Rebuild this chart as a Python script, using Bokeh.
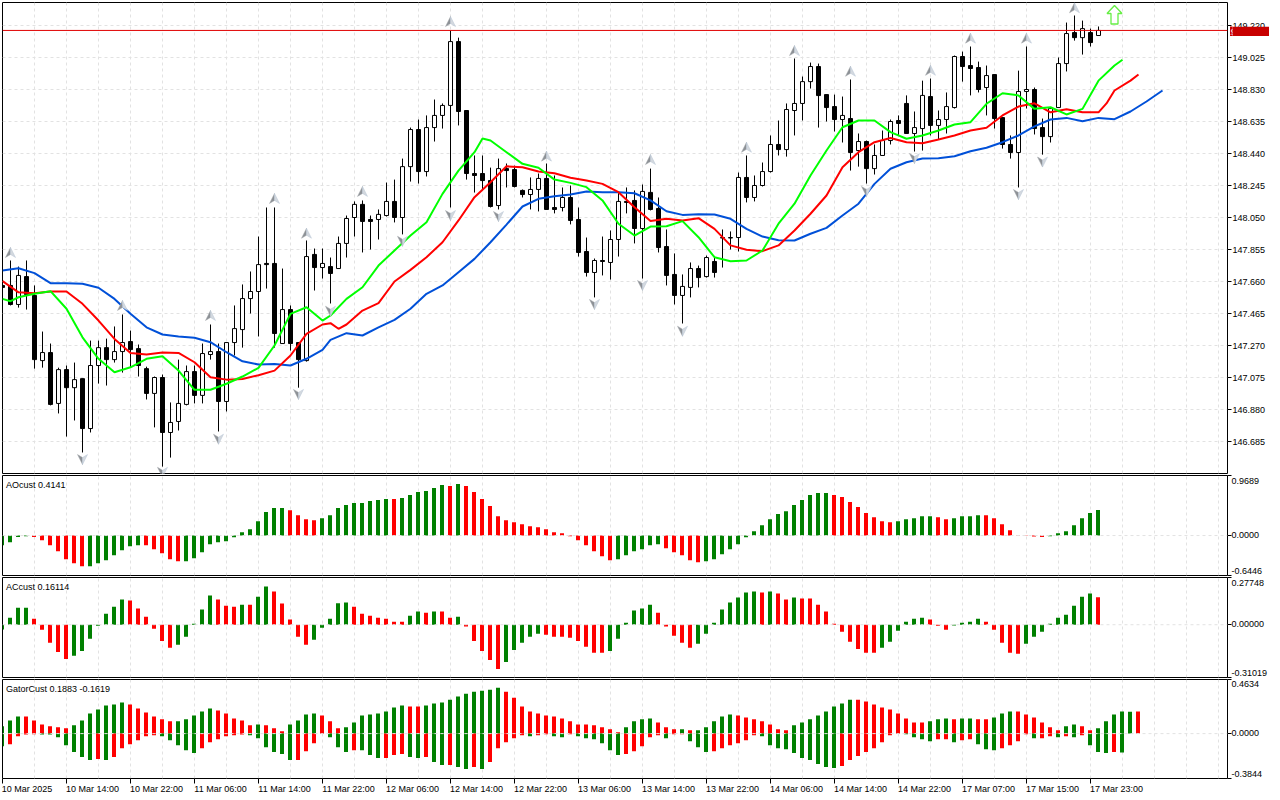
from bokeh.embed import file_html
from bokeh.layouts import column
from bokeh.models import (FixedTicker, Grid, Label, LinearAxis, PrintfTickFormatter, Range1d, Span)
from bokeh.plotting import figure
from bokeh.resources import INLINE

high = [147.642,147.788,147.751,147.788,147.636,147.355,147.282,147.135,147.148,147.166,
147.068,147.300,147.300,147.312,147.386,147.459,147.361,147.276,147.141,147.081,
147.093,146.923,147.184,147.148,147.148,147.282,147.398,147.282,147.288,147.514,
147.642,147.721,147.934,148.111,148.111,147.739,147.514,147.288,147.910,147.861,
147.861,147.806,147.934,148.062,148.148,148.154,148.062,148.099,148.263,148.281,
148.409,148.598,148.647,148.672,148.769,148.745,149.189,149.146,148.702,148.428,
148.428,148.354,148.409,148.379,148.366,148.221,148.294,148.318,148.379,148.306,
148.233,148.245,148.111,147.928,147.800,147.934,147.971,148.203,148.233,148.215,
148.251,148.348,148.172,147.977,147.831,147.703,147.776,147.757,147.818,147.806,
147.977,147.965,148.324,148.428,148.306,148.385,148.550,148.641,148.745,149.019,
148.909,148.994,148.988,148.799,148.799,148.787,148.891,148.562,148.519,148.495,
148.580,148.647,148.672,148.794,148.696,148.884,148.897,148.702,148.812,149.037,
149.061,149.092,149.000,148.976,148.921,148.659,148.550,148.945,149.092,148.842,
148.653,148.720,149.025,149.238,149.281,149.250,149.201,149.214]
open_ = [147.636,147.636,147.520,147.690,147.575,147.178,147.227,146.917,147.123,147.013,
147.068,146.764,147.148,147.257,147.184,147.233,147.294,147.251,147.129,146.978,
147.075,146.740,146.807,146.911,147.111,146.966,147.215,147.233,146.929,147.288,
147.367,147.556,147.599,147.770,147.770,147.282,147.489,147.288,147.178,147.825,
147.745,147.751,147.739,147.892,148.050,148.130,148.038,148.038,148.062,148.148,
148.050,148.360,148.586,148.330,148.598,148.672,148.733,149.122,148.702,148.318,
148.318,148.275,148.123,148.348,148.342,148.215,148.190,148.221,148.288,148.111,
148.111,148.172,148.038,147.843,147.715,147.788,147.776,147.916,148.148,148.154,
147.983,148.203,148.105,147.873,147.703,147.575,147.624,147.739,147.690,147.782,
147.925,147.925,147.928,148.294,148.172,148.245,148.330,148.495,148.464,148.702,
148.745,148.878,148.970,148.799,148.726,148.647,148.653,148.458,148.513,148.348,
148.428,148.519,148.641,148.745,148.562,148.592,148.787,148.611,148.647,148.720,
149.031,148.976,148.964,148.842,148.921,148.659,148.495,148.446,148.818,148.830,
148.598,148.543,148.720,148.988,149.177,149.146,149.177,149.159]
close = [147.624,147.520,147.697,147.581,147.184,147.227,146.911,147.123,147.013,147.062,
146.764,147.148,147.257,147.184,147.233,147.288,147.245,147.148,146.978,147.075,
146.740,146.801,146.917,147.111,146.966,147.221,147.233,146.929,147.288,147.373,
147.556,147.599,147.763,147.763,147.343,147.489,147.282,147.184,147.812,147.745,
147.770,147.709,147.892,148.044,148.130,148.026,148.026,148.069,148.148,148.050,
148.360,148.586,148.330,148.598,148.672,148.733,149.122,148.696,148.318,148.306,
148.275,148.117,148.348,148.336,148.239,148.190,148.221,148.288,148.099,148.099,
148.172,148.032,147.837,147.715,147.788,147.782,147.916,148.148,148.142,147.983,
148.209,148.099,147.867,147.697,147.575,147.630,147.739,147.684,147.806,147.715,
147.928,147.928,148.294,148.172,148.245,148.330,148.495,148.464,148.708,148.745,
148.878,148.970,148.793,148.720,148.647,148.672,148.446,148.513,148.348,148.428,
148.519,148.635,148.623,148.562,148.598,148.794,148.611,148.647,148.726,149.031,
148.970,148.958,148.830,148.915,148.653,148.495,148.446,148.818,148.830,148.592,
148.543,148.714,148.988,149.171,149.146,149.201,149.116,149.190]
low = [147.617,147.514,147.501,147.489,147.129,147.135,146.905,146.856,146.715,146.813,
146.618,146.740,147.038,147.026,147.166,147.105,147.135,147.081,146.941,146.771,
146.532,146.587,146.752,146.905,146.917,146.917,147.184,146.746,146.868,147.209,
147.257,147.465,147.325,147.617,147.257,147.282,147.239,147.013,147.172,147.605,
147.678,147.526,147.739,147.806,147.934,147.837,147.855,147.916,148.056,148.020,
147.947,148.269,148.257,148.300,148.513,148.592,148.111,148.611,148.281,148.202,
148.215,148.111,148.099,148.233,148.233,148.172,148.099,148.087,148.099,148.075,
148.087,148.008,147.812,147.690,147.563,147.697,147.672,147.812,148.075,147.892,
147.678,148.093,147.837,147.636,147.520,147.404,147.563,147.624,147.684,147.684,
147.745,147.855,147.843,148.142,148.148,148.239,148.324,148.428,148.421,148.550,
148.641,148.836,148.598,148.635,148.574,148.507,148.336,148.360,148.257,148.312,
148.428,148.495,148.550,148.562,148.452,148.458,148.550,148.525,148.562,148.714,
148.878,148.794,148.812,148.672,148.592,148.470,148.409,148.233,148.714,148.556,
148.433,148.507,148.720,148.940,149.128,149.043,149.092,149.159]

blue_line = [147.727,147.741,147.711,147.650,147.650,147.646,147.622,147.554,147.463,147.381,
147.337,147.325,147.317,147.290,147.229,147.174,147.154,147.158,147.148,147.189,147.244,
147.304,147.345,147.331,147.381,147.426,147.494,147.585,147.636,147.717,147.798,
147.899,148.007,148.117,148.164,148.180,148.190,148.209,148.204,148.204,148.198,
148.154,148.088,148.066,148.070,148.068,148.042,147.981,147.934,147.911,147.910,
147.951,147.987,148.062,148.134,148.255,148.347,148.387,148.409,148.411,148.423,
148.454,148.475,148.509,148.550,148.605,148.647,148.657,148.637,148.657,148.649,
148.696,148.757,148.824]
red_line = [147.662,147.594,147.588,147.599,147.599,147.524,147.422,147.310,147.225,147.215,
147.227,147.225,147.168,147.076,147.062,147.066,147.089,147.117,147.209,147.341,147.398,
147.406,147.398,147.483,147.528,147.660,147.731,147.808,147.899,148.032,148.174,
148.265,148.362,148.356,148.330,148.320,148.292,148.275,148.255,148.204,148.113,
148.028,148.042,148.032,148.046,147.981,147.880,147.854,147.845,147.880,147.971,
148.073,148.184,148.356,148.448,148.509,148.535,148.509,148.503,148.525,148.550,
148.580,148.597,148.672,148.726,148.746,148.691,148.710,148.691,148.691,148.824,
148.884,148.921]
green_line = [147.554,147.564,147.585,147.601,147.494,147.320,147.189,147.107,147.137,147.189,
147.205,147.117,147.000,147.000,147.037,147.081,147.134,147.270,147.463,147.503,147.422,
147.453,147.554,147.625,147.757,147.849,147.940,148.021,148.194,148.336,148.448,
148.519,148.448,148.377,148.353,148.281,148.261,148.235,148.154,148.012,147.940,
147.995,147.997,148.028,147.930,147.808,147.783,147.788,147.849,148.012,148.134,
148.306,148.458,148.600,148.641,148.641,148.570,148.530,148.550,148.580,148.617,
148.631,148.743,148.807,148.794,148.712,148.722,148.678,148.712,148.884,148.976,149.011]
line_bars = list(range(0, 41, 2)) + list(range(41, 146, 2))
blue_bars = line_bars
red_bars = line_bars[:72] + [142]
green_bars = line_bars[:71] + [140]
# extra readings at the lines' sharper bends
red_extra = {42: 147.372, 138: 148.745}
green_extra = {1: 147.540, 60: 148.531}

ao = [-.157,-.108,-.022,-.011,-.022,-.076,-.157,-.254,-.383,-.448,-.497,-.497,-.448,-.400,-.319,-.238,-.173,-.157,-.157,-.221,
-.286,-.383,-.416,-.416,-.367,-.270,-.140,-.108,-.092,-.027,.054,.103,.232,.378,.443,.443,.410,.329,.265,.248,
.281,.329,.443,.491,.524,.524,.556,.572,.589,.589,.605,.653,.702,.718,.767,.815,.799,.832,.799,.702,
.589,.475,.313,.248,.216,.184,.151,.135,.103,.054,.038,-.011,-.076,-.157,-.254,-.335,-.400,-.383,-.319,-.254,
-.221,-.157,-.140,-.205,-.270,-.319,-.400,-.432,-.416,-.383,-.302,-.221,-.140,-.027,.070,.167,.265,.346,.394,.491,
.572,.653,.686,.686,.653,.621,.540,.459,.362,.297,.232,.216,.232,.265,.281,.313,.313,.297,.265,.281,
.313,.313,.329,.329,.281,.184,.086,-.005,-.005,-.016,-.022,-.011,.038,.070,.167,.281,.362,.4141]
ao_red = [*range(4,11),*range(18,23),*range(36,40),49,56,*range(58,77),*range(83,88),*range(104,112),117,118,*range(123,131)]

ac = [-.028,.041,.100,.100,.035,-.030,-.106,-.160,-.201,-.183,-.154,-.083,-.006,.065,.106,.148,.142,.095,.047,-.024,
-.095,-.136,-.118,-.071,.006,.089,.171,.148,.112,.106,.118,.118,.165,.225,.195,.124,.030,-.071,-.118,-.089,
-.018,.035,.126,.130,.106,.065,.053,.041,.035,.018,.018,.053,.077,.071,.077,.077,.041,.047,-.010,-.095,
-.154,-.207,-.260,-.219,-.148,-.106,-.071,-.053,-.059,-.071,-.071,-.077,-.095,-.130,-.165,-.165,-.154,-.083,.012,.083,
.095,.118,.071,-.010,-.065,-.106,-.136,-.112,-.053,.012,.089,.130,.160,.189,.195,.189,.195,.183,.148,.160,
.154,.154,.118,.077,.006,-.041,-.100,-.142,-.165,-.165,-.136,-.100,-.035,.018,.035,.041,.030,-.006,-.030,-.004,
.012,.018,.035,.018,-.030,-.106,-.165,-.171,-.112,-.071,-.041,.006,.041,.059,.112,.165,.183,.16114]
ac_red = [*range(4,9),*range(16,22),27,28,29,31,*range(34,39),*range(44,51),53,55,56,*range(58,63),*range(68,76),*range(82,87),95,97,98,*range(100,110),116,117,118,*range(123,128),137]

gator_up = [.062,.113,.147,.147,.113,.079,.062,.054,.045,.071,.113,.173,.207,.241,.249,.266,.249,.215,.181,.147,
.122,.105,.105,.122,.156,.190,.215,.198,.173,.130,.113,.071,.079,.071,.045,.020,.079,.113,.164,.173,
.156,.105,.045,.054,.096,.156,.164,.173,.190,.224,.241,.232,.232,.241,.258,.266,.291,.317,.342,.359,
.368,.376,.393,.359,.308,.232,.190,.173,.156,.147,.130,.105,.079,.079,.071,.054,.037,.011,.054,.105,
.122,.130,.096,.054,.037,.037,.028,.028,.054,.105,.147,.164,.156,.139,.122,.105,.079,.037,.028,.071,
.096,.122,.156,.190,.232,.258,.291,.291,.275,.249,.224,.207,.173,.130,.096,.096,.105,.122,.130,.122,
.130,.130,.122,.122,.139,.173,.190,.190,.164,.139,.096,.054,.028,.062,.079,.062,.028,.045,.105,.164,
.190,.188,.1883]
gator_up_red = [*range(3,9),*range(16,22),*range(27,32),33,34,35,40,41,42,51,52,*range(63,78),82,83,84,86,*range(92,99),*range(107,116),119,122,123,*range(127,133),135,136,142]
gator_down = [-.108,-.091,-.023,-.008,-.006,-.008,-.008,-.031,-.099,-.158,-.201,-.226,-.218,-.226,-.201,-.125,-.091,-.057,-.023,-.014,
-.023,-.057,-.099,-.142,-.167,-.125,-.074,-.048,-.023,-.014,-.008,-.014,-.040,-.116,-.158,-.175,-.226,-.226,-.150,-.082,
-.003,-.031,-.116,-.158,-.142,-.142,-.184,-.209,-.209,-.184,-.175,-.201,-.209,-.201,-.243,-.269,-.269,-.286,-.303,-.286,
-.303,-.243,-.125,-.074,-.040,-.014,-.023,-.014,-.006,-.023,-.031,-.006,-.023,-.040,-.048,-.082,-.142,-.184,-.175,-.150,
-.108,-.031,-.014,-.040,-.006,-.006,-.065,-.116,-.158,-.150,-.125,-.099,-.082,-.057,-.014,-.023,-.099,-.125,-.133,-.167,
-.209,-.226,-.260,-.286,-.294,-.277,-.226,-.192,-.158,-.125,-.074,-.014,-.003,-.006,-.031,-.048,-.065,-.048,-.048,-.074,
-.057,-.048,-.091,-.133,-.142,-.125,-.099,-.065,-.006,-.040,-.040,-.023,-.031,-.023,-.031,-.014,-.099,-.158,-.167,-.158,-.1619]
gator_down_red = [1,2,3,4,12,*range(14,20),*range(25,31),*range(37,41),44,48,49,50,53,56,59,*range(61,66),67,68,71,*range(78,83),84,85,*range(89,95),*range(105,113),117,118,120,121,*range(125,129),130,131,133,135,139]

fractal_up_bars = [1,15,26,34,38,45,56,68,81,93,99,106,116,121,128,134]
fractal_up_price = [147.837,147.514,147.453,148.166,147.954,148.209,149.244,148.424,148.403,148.478,149.067,148.941,148.947,149.143,149.143,149.328]
fractal_down_bars = [10,20,27,37,41,50,56,62,74,80,85,108,114,127,130]
fractal_down_price = [146.575,146.497,146.699,146.972,147.479,147.905,148.062,148.056,147.520,147.636,147.357,148.209,148.409,148.190,148.388]

signal_bar = 139
signal_price = 149.342
last_price = 149.190
price_ticks = [149.220,149.025,148.830,148.635,148.440,148.245,148.050,147.855,147.660,147.465,147.270,147.075,146.880,146.685]
time_ticks = list(range(0, 144, 8))
time_labels = ["10 Mar 2025","10 Mar 14:00","10 Mar 22:00","11 Mar 06:00","11 Mar 14:00","11 Mar 22:00","12 Mar 06:00","12 Mar 14:00","12 Mar 22:00","13 Mar 06:00","13 Mar 14:00","13 Mar 22:00","14 Mar 06:00","14 Mar 14:00","14 Mar 22:00","17 Mar 07:00","17 Mar 15:00","17 Mar 23:00"]

for a in (high, open_, close, low):
    assert len(a) == 138, len(a)
assert len(blue_line) == len(blue_bars), (len(blue_line), len(blue_bars))
assert len(red_line) == len(red_bars), (len(red_line), len(red_bars))
assert len(green_line) == len(green_bars), (len(green_line), len(green_bars))
assert len(ao) == 138, len(ao)
assert len(ac) == 138, len(ac)
assert len(gator_up) == 143, len(gator_up)
assert len(gator_down) == 141, len(gator_down)

FONT = "Liberation Sans"
FS = "9px"
GRID = "#e2e2e2"
RED = "#ff0000"
GREEN = "#008000"
PX_X = 1 / 8            # one screen pixel in bars
PX_Y = 0.195 / 32       # one screen pixel in price
XMAX = 1225 / 8
grid_ticks = list(range(4, 154, 4))


def panel(height, top, bottom, y0, y1, shift):
    p = figure(width=1280, height=height, output_backend="svg", toolbar_location=None,
               x_axis_type=None, y_axis_type=None,
               x_range=Range1d(shift, XMAX + shift), y_range=Range1d(y0, y1),
               min_border_left=2, min_border_right=53, min_border_top=top, min_border_bottom=bottom,
               outline_line_color="black", outline_line_width=1, background_fill_color="white")
    p.add_layout(Grid(dimension=0, ticker=FixedTicker(ticks=[t + shift for t in grid_ticks]),
                      grid_line_color=GRID, grid_line_dash="3 3"))
    return p


def tick_axis(ticks, out):
    return LinearAxis(ticker=FixedTicker(ticks=ticks), axis_line_color=None,
                      major_tick_in=0, major_tick_out=out, major_tick_line_color="black",
                      minor_tick_line_color=None, major_label_standoff=0,
                      major_label_overrides={t: "" for t in ticks}, major_label_text_font_size="1px")


def text_axis(ticks, texts):
    return LinearAxis(ticker=FixedTicker(ticks=ticks), axis_line_color=None,
                      major_tick_in=0, major_tick_out=0, major_tick_line_color=None,
                      minor_tick_line_color=None, major_label_standoff=0,
                      major_label_overrides=dict(zip(ticks, texts)),
                      major_label_text_font=FONT, major_label_text_font_size=FS,
                      major_label_text_color="black")


def indicator(height, top, bottom, y0, y1, name, fmt, bars):
    p = panel(height, top, bottom, y0, y1, 0.5 * PX_X)
    for xs, ys, reds in bars:
        p.vbar(x=xs, top=ys, bottom=0, width=0.5, line_color=None,
               fill_color=[RED if i in reds else GREEN for i in xs])
    p.add_layout(Span(location=0, dimension="width", line_color=GRID, line_dash="3 3", level="overlay"))
    p.add_layout(tick_axis([y1, 0, y0], 4), "right")
    unit = (y1 - y0) / 100   # one screen pixel in this panel's values
    p.add_layout(text_axis([y1 - 5 * unit, 0.5 * unit, y0 + 5 * unit], [fmt % y1, fmt % 0, fmt % y0]), "right")
    p.add_layout(Label(x=0.5, y=y1, y_offset=-9.5, text=name, text_font=FONT, text_font_size=FS,
                       text_baseline="middle", text_color="black"))
    return p


# ---- main price panel
main = panel(474, 2, 1, 146.49, 149.3602, 0)
main.add_layout(Grid(dimension=1, ticker=FixedTicker(ticks=price_ticks), grid_line_color=GRID, grid_line_dash="3 3"))
idx = list(range(len(high)))
main.segment(x0=idx, y0=low, x1=idx, y1=high, line_color="black", line_width=1)
main.vbar(x=idx, width=0.5, top=[max(o, c) for o, c in zip(open_, close)],
          bottom=[min(o, c) for o, c in zip(open_, close)], line_color="black", line_width=1,
          fill_color=["white" if c >= o else "black" for o, c in zip(open_, close)])


def merged(bars, values, extra):
    pts = sorted(list(zip(bars, values)) + list(extra.items()))
    return [a for a, _ in pts], [b for _, b in pts]


main.line(blue_bars, blue_line, line_color="#0050d8", line_width=2)
rx_, ry_ = merged(red_bars, red_line, red_extra)
main.line(rx_, ry_, line_color=RED, line_width=2)
gx_, gy_ = merged(green_bars, green_line, green_extra)
main.line(gx_, gy_, line_color="#00ff00", line_width=2)


def arrows(bars, prices, sign):
    # sign=+1 points up, -1 points down; the mark's outline is built around its bar and price
    lx, ly, rx, ry = [], [], [], []
    for b, pr in zip(bars, prices):
        tip = pr + sign * 5 * PX_Y
        base = pr - sign * 5 * PX_Y
        notch = pr - sign * 2 * PX_Y
        lx.append([b, b - 5 * PX_X, b])
        ly.append([tip, base, notch])
        rx.append([b, b + 5 * PX_X, b])
        ry.append([tip, base, notch])
    main.patches(lx, ly, fill_color="#8d9196", line_color="#a4a8ad", line_width=0.5)
    main.patches(rx, ry, fill_color="#d3d8de", line_color="#b9c6d6", line_width=0.5)


arrows(fractal_up_bars, fractal_up_price, 1)
arrows(fractal_down_bars, fractal_down_price, -1)

sx = [0, 7.5, 3.5, 3.5, -3.5, -3.5, -7.5]
sy = [0, -8, -8, -18.5, -18.5, -8, -8]
main.patch([signal_bar + a * PX_X for a in sx], [signal_price + b * PX_Y for b in sy],
           fill_color="white", line_color="#66ee44", line_width=1.3)

main.add_layout(Span(location=last_price, dimension="width", line_color="#e00000", line_width=1, level="overlay"))
price_axis = LinearAxis(ticker=FixedTicker(ticks=price_ticks), axis_line_color=None,
                        major_tick_in=0, major_tick_out=4, major_tick_line_color="black",
                        minor_tick_line_color=None, major_label_standoff=1,
                        formatter=PrintfTickFormatter(format="%.3f"),
                        major_label_text_font=FONT, major_label_text_font_size=FS, major_label_text_color="black")
main.add_layout(price_axis, "right")

# ---- indicator panels
ao_panel = indicator(102, 1, 1, -0.6446, 0.9689, "AOcust 0.4141", "%.4f", [(idx, ao, set(ao_red))])
ac_panel = indicator(102, 1, 1, -0.31019, 0.27748, "ACcust 0.16114", "%.5f", [(idx, ac, set(ac_red))])
gator_panel = indicator(118, 1, 17, -0.3844, 0.4634, "GatorCust 0.1883 -0.1619", "%.4f",
                        [(list(range(len(gator_up))), gator_up, set(gator_up_red)),
                         (list(range(len(gator_down))), gator_down, set(gator_down_red))])

gator_panel.add_layout(tick_axis([t + 0.5 * PX_X for t in time_ticks], 5), "below")
half_text = 26.5 * PX_X  # a time label starts at its tick, so its centre lies half its width further on
gator_panel.add_layout(text_axis([t + half_text + (-1.5 * PX_X if t == 0 else 0) for t in time_ticks], time_labels), "below")

# ---- price tag over the right-hand scale, in a small figure of its own
tag = figure(width=39, height=11, output_backend="svg", toolbar_location=None,
             x_axis_type=None, y_axis_type=None, x_range=Range1d(0, 1), y_range=Range1d(0, 1),
             min_border=0, outline_line_color=None, background_fill_color="#c80000", border_fill_color="#c80000",
             styles={"margin-top": "-771px", "margin-left": "1230px"})
tag.add_layout(Label(x=0.5, y=0.5, text="%.3f" % last_price, text_font=FONT, text_font_size=FS, text_color="white",
                     text_align="center", text_baseline="middle"))

page = column(main, ao_panel, ac_panel, gator_panel, tag, spacing=0)
open("out.html", "w").write(file_html(page, INLINE))
